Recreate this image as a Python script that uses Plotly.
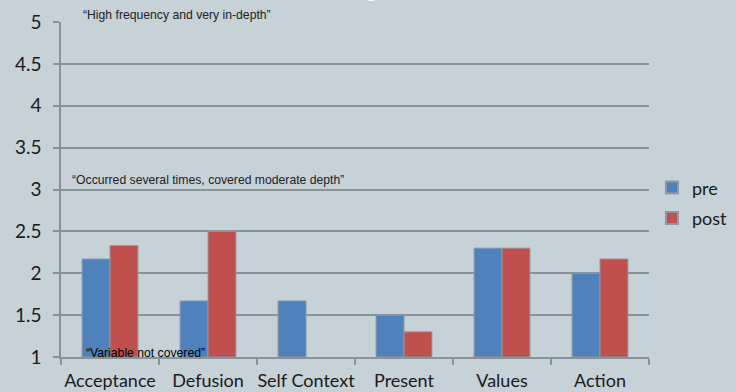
import plotly.graph_objects as go

# Process ratings per component, pre and post (None = variable not covered)
categories = ["Acceptance", "Defusion", "Self Context", "Present", "Values", "Action"]
pre_scores = [2.17, 1.67, 1.67, 1.5, 2.3, 2.0]
post_scores = [2.33, 2.5, None, 1.3, 2.3, 2.17]
y_ticks = [1, 1.5, 2, 2.5, 3, 3.5, 4, 4.5, 5]
y_tick_labels = ["1", "1.5", "2", "2.5", "3", "3.5", "4", "4.5", "5"]

bg = "#c6d1d8"
grid = "#8a9298"
outline = "#8d99a3"


def above_floor(vals):
    return [None if v is None else v - 1 for v in vals]


fig = go.Figure()
fig.add_trace(go.Bar(x=categories, y=above_floor(pre_scores), base=1, name="pre", legendgroup="pre",
                     marker=dict(color="#4f81bd", line=dict(color=outline, width=1))))
fig.add_trace(go.Bar(x=categories, y=above_floor(post_scores), base=1, name="post", legendgroup="post",
                     marker=dict(color="#c0504d", line=dict(color=outline, width=1))))

ann_font = dict(family="Liberation Sans, Arial", size=12.2, color="#222222")
fig.add_annotation(x=0.0, y=5, xref="paper", yref="y", text="\u201cHigh frequency and very in-depth\u201d",
                   showarrow=False, xanchor="left", yanchor="bottom", xshift=20, yshift=-2, font=ann_font)
fig.add_annotation(x=0.0, y=3, xref="paper", yref="y",
                   text="\u201cOccurred several times, covered moderate depth\u201d",
                   showarrow=False, xanchor="left", yanchor="bottom", xshift=9, yshift=1, font=ann_font)
fig.add_annotation(x=0.0, y=1, xref="paper", yref="y", text="\u201cVariable not covered\u201d",
                   showarrow=False, xanchor="left", yanchor="bottom", xshift=23, yshift=-5,
                   font=dict(family="Liberation Sans, Arial", size=12.2, color="#000000"))

fig.update_layout(
    width=736, height=392,
    margin=dict(l=61, r=87, t=22, b=35, autoexpand=False),
    paper_bgcolor=bg, plot_bgcolor=bg,
    barmode="group", bargap=0.43, bargroupgap=0,
    font=dict(family="Lato, Open Sans, sans-serif", color="#1a1a1a"),
    legend=dict(x=1.005, y=0.46, xanchor="left", yanchor="middle",
                font=dict(size=18, family="Lato, sans-serif"),
                bgcolor="rgba(0,0,0,0)", itemsizing="constant",
                traceorder="grouped", tracegroupgap=4),
    showlegend=True,
)
# small white disc peeking in at the top edge
fig.add_shape(type="circle", xref="paper", yref="paper",
              x0=(362 - 61) / 588, x1=(380 - 61) / 588,
              y0=(335 + 21) / 335, y1=(335 + 39) / 335,
              fillcolor="white", line=dict(width=0), layer="above")

fig.update_xaxes(
    showline=True, linecolor=grid, linewidth=1.5, automargin=False, tickangle=0,
    ticks="outside", tickson="boundaries", ticklen=6, tickcolor=grid, tickwidth=1.5,
    tickfont=dict(size=18, family="Lato, sans-serif", color="#1a1a1a"),
    ticklabelstandoff=7, showgrid=False,
)
fig.update_yaxes(
    range=[1, 5], tickvals=y_ticks, ticktext=y_tick_labels, automargin=False,
    showline=True, linecolor=grid, linewidth=1.5,
    ticks="outside", ticklen=6, tickcolor=grid, tickwidth=1.5,
    showgrid=True, gridcolor=grid, gridwidth=1.5,
    tickfont=dict(size=19, family="Lato, sans-serif", color="#1a1a1a"),
    ticklabelstandoff=8, zeroline=False,
)

fig.write_html("out.html")
